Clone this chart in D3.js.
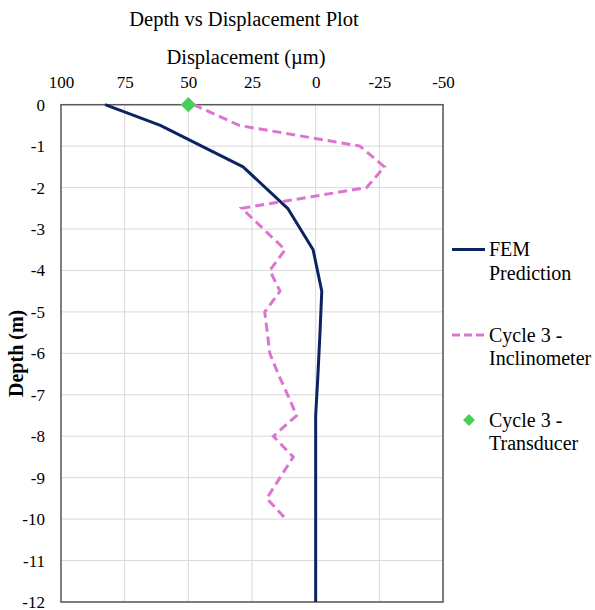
<!DOCTYPE html>
<html>
<head>
<meta charset="utf-8">
<script src="https://cdn.jsdelivr.net/npm/d3@7"></script>
<style>
  body { margin: 0; background: #fff; }
</style>
</head>
<body>
<svg id="chart" width="595" height="610"></svg>
<script>
// tick labels
const xTicks = [100, 75, 50, 25, 0, -25, -50];
const yTicks = [0, -1, -2, -3, -4, -5, -6, -7, -8, -9, -10, -11, -12];

// FEM prediction
const femDepth = [0, -0.5, -1.5, -2.5, -3.5, -4.5, -5.5, -6.5, -7.5, -8.5, -9.5, -10.5, -11.5, -12];
const femDisp  = [82.7, 61, 28.5, 11, 1, -2.4, -1.7, -0.9, 0, 0, 0, 0, 0, 0];

// Cycle 3 - Inclinometer
const incDepth = [0, -0.5, -1, -1.5, -2, -2.5, -3.5, -4, -4.5, -5, -5.5, -6, -6.5, -7, -7.5, -8, -8.5, -9.5, -10];
const incDisp  = [48, 30, -17.4, -27, -20, 29, 12, 18, 14, 20, 19, 18, 14.7, 11, 7.5, 16.6, 8.8, 19.2, 11.7];

// Cycle 3 - Transducer
const trDepth = [0];
const trDisp  = [50];

const dim = {left: 61, right: 443, top: 104.7, bottom: 602};
const navy = '#0b2461', pink = '#dc74d2', green = '#46d05a';
const serif = '"Liberation Serif", "Times New Roman", serif';

const svg = d3.select('#chart').style('font-family', serif);

const x = d3.scaleLinear().domain([100, -50]).range([dim.left, dim.right]);
const y = d3.scaleLinear().domain([0, -12]).range([dim.top, dim.bottom]);

// gridlines
svg.append('g').selectAll('line').data(xTicks).enter().append('line')
   .attr('x1', d => x(d)).attr('x2', d => x(d))
   .attr('y1', dim.top).attr('y2', dim.bottom)
   .attr('stroke', '#d9d9d9').attr('stroke-width', 1);
svg.append('g').selectAll('line').data(yTicks).enter().append('line')
   .attr('x1', dim.left).attr('x2', dim.right)
   .attr('y1', d => y(d)).attr('y2', d => y(d))
   .attr('stroke', '#d9d9d9').attr('stroke-width', 1);

// plot border
svg.append('rect')
   .attr('x', dim.left).attr('y', dim.top)
   .attr('width', dim.right - dim.left).attr('height', dim.bottom - dim.top)
   .attr('fill', 'none').attr('stroke', '#595959').attr('stroke-width', 1.5);

// axes
const xAxis = svg.append('g')
   .attr('transform', `translate(0,${dim.top})`)
   .call(d3.axisTop(x).tickValues(xTicks).tickSize(0).tickPadding(16.5).tickFormat(d => String(d)));
xAxis.select('.domain').remove();
xAxis.selectAll('text').style('font-family', serif).style('font-size', '17px').attr('fill', '#000');

const yAxis = svg.append('g')
   .attr('transform', `translate(${dim.left},0)`)
   .call(d3.axisLeft(y).tickValues(yTicks).tickSize(0).tickPadding(16).tickFormat(d => String(d)));
yAxis.select('.domain').remove();
yAxis.selectAll('text').style('font-family', serif).style('font-size', '17px').attr('fill', '#000');

// titles
svg.append('text').attr('x', 244).attr('y', 26).attr('text-anchor', 'middle')
   .style('font-family', serif).style('font-size', '20.5px').text('Depth vs Displacement Plot');
svg.append('text').attr('x', 246).attr('y', 64).attr('text-anchor', 'middle')
   .style('font-family', serif).style('font-size', '20.5px').text('Displacement (µm)');
svg.append('text').attr('transform', `translate(23,${(dim.top + dim.bottom) / 2}) rotate(-90)`)
   .attr('text-anchor', 'middle').style('font-family', serif).style('font-size', '20px')
   .style('font-weight', 'bold').text('Depth (m)');

// lines
const line = d3.line().x(d => x(d[1])).y(d => y(d[0]));

svg.append('path')
   .attr('d', line(d3.zip(femDepth, femDisp)))
   .attr('fill', 'none').attr('stroke', navy).attr('stroke-width', 3)
   .attr('stroke-linejoin', 'round');

svg.append('path')
   .attr('d', line(d3.zip(incDepth, incDisp)))
   .attr('fill', 'none').attr('stroke', pink).attr('stroke-width', 3)
   .attr('stroke-dasharray', '9,5');

const diamond = d3.symbol().type(d3.symbolDiamond2).size(150);
svg.append('g').selectAll('path').data(d3.zip(trDepth, trDisp)).enter().append('path')
   .attr('d', diamond)
   .attr('transform', d => `translate(${x(d[1])},${y(d[0])})`)
   .attr('fill', green);

// legend
const legend = svg.append('g');
const legendRows = [
  {y: 249.5, lines: ['FEM', 'Prediction'], kind: 'solid'},
  {y: 335, lines: ['Cycle 3 -', 'Inclinometer'], kind: 'dash'},
  {y: 420, lines: ['Cycle 3 -', 'Transducer'], kind: 'marker'}
];
legendRows.forEach(r => {
  if (r.kind === 'solid')
    legend.append('line').attr('x1', 452).attr('x2', 485).attr('y1', r.y).attr('y2', r.y)
          .attr('stroke', navy).attr('stroke-width', 3);
  else if (r.kind === 'dash')
    legend.append('line').attr('x1', 452).attr('x2', 485).attr('y1', r.y).attr('y2', r.y)
          .attr('stroke', pink).attr('stroke-width', 3).attr('stroke-dasharray', '8,4');
  else
    legend.append('path').attr('d', d3.symbol().type(d3.symbolDiamond2).size(90))
          .attr('transform', `translate(469,${r.y})`).attr('fill', green);
  r.lines.forEach((t, i) => {
    legend.append('text').attr('x', 489).attr('y', r.y + 6.5 + i * 23.5)
          .style('font-family', serif).style('font-size', '20px').text(t);
  });
});
</script>
</body>
</html>
